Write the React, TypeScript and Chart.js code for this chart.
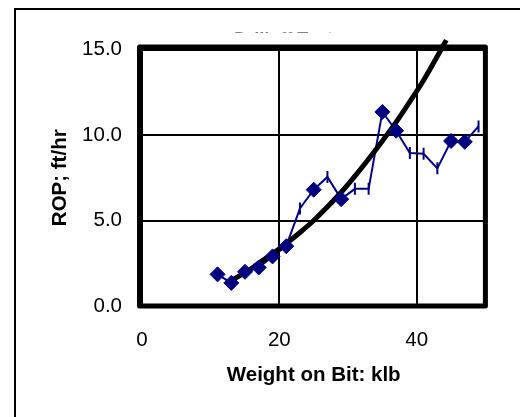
import React, { useEffect, useRef } from 'react';
import { Chart, registerables } from 'chart.js';

Chart.register(...registerables);

// Measured drill-off points (diamond markers)
const wobDiamond = [11, 13, 15, 17, 19, 21, 25, 29, 35, 37, 45, 47];
const ropDiamond = [1.85, 1.35, 2.0, 2.25, 2.9, 3.5, 6.8, 6.25, 11.35, 10.25, 9.65, 9.6];
// Measured drill-off points (dash markers)
const wobDash = [23, 27, 31, 33, 39, 41, 43, 49];
const ropDash = [5.7, 7.55, 6.85, 6.85, 8.95, 8.9, 8.05, 10.5];
// Fitted trend curve
const trendWob = [12.8, 15, 17, 19, 21, 23, 25, 27, 29, 31, 33, 35, 37, 39, 41, 43, 44.3];
const trendRop = [1.45, 1.95, 2.5, 3.05, 3.65, 4.3, 5.0, 5.8, 6.65, 7.6, 8.6, 9.65, 10.75, 11.95, 13.2, 14.6, 15.55];

const xTickValues = [0, 20, 40];
const yTickValues = [0, 5, 10, 15];

const chartTitle = 'Drilloff Test';
const xTitle = 'Weight on Bit: klb';
const yTitle = 'ROP; ft/hr';

const NAVY = '#000080';
const FONT = '"Liberation Sans", Arial, Helvetica, sans-serif';
const FS = 20.5;

export default function App() {
  const ref = useRef<HTMLCanvasElement>(null);

  useEffect(() => {
    if (!ref.current) return;
    const diamonds = wobDiamond.map((x, i) => ({ x, y: ropDiamond[i] }));
    const dashes = wobDash.map((x, i) => ({ x, y: ropDash[i] }));
    const measured = [...diamonds, ...dashes].sort((a, b) => a.x - b.x);
    const trend = trendWob.map((x, i) => ({ x, y: trendRop[i] }));

    const framePlugin = {
      id: 'frame',
      beforeDraw(chart: any) {
        const { ctx, chartArea: ca } = chart;
        ctx.save();
        ctx.fillStyle = '#000';
        ctx.font = `bold 18px ${FONT}`;
        ctx.textAlign = 'center';
        ctx.textBaseline = 'top';
        ctx.fillText(chartTitle, (ca.left + ca.right) / 2 - 30, 31);
        ctx.fillStyle = '#fff';
        ctx.fillRect(ca.left - 12, 32.5, ca.width + 24, ca.bottom - 32.5 + 6);
        ctx.restore();
      },
      beforeDatasetsDraw(chart: any) {
        const { ctx, chartArea: ca } = chart;
        ctx.save();
        ctx.strokeStyle = '#000';
        ctx.lineWidth = 5;
        ctx.lineJoin = 'round';
        ctx.strokeRect(ca.left - 2.5, ca.top - 2.5, ca.width + 2.5, ca.height + 2.5);
        ctx.restore();
      },
    };

    const chart = new Chart(ref.current, {
      type: 'scatter',
      data: {
        datasets: [
          {
            label: 'diamonds',
            data: diamonds,
            showLine: false,
            pointStyle: 'rectRot',
            pointRadius: 7.5,
            backgroundColor: NAVY,
            borderColor: NAVY,
            borderWidth: 1,
            order: 0,
          },
          {
            label: 'dashes',
            data: dashes,
            showLine: false,
            pointStyle: 'line',
            pointRotation: 90,
            pointRadius: 6,
            backgroundColor: NAVY,
            borderColor: NAVY,
            borderWidth: 2,
            order: 1,
          },
          {
            label: 'trend',
            data: trend,
            showLine: true,
            borderColor: '#000',
            borderWidth: 5,
            pointRadius: 0,
            cubicInterpolationMode: 'monotone',
            clip: false,
            order: 2,
          } as any,
          {
            label: 'measured',
            data: measured,
            showLine: true,
            borderColor: NAVY,
            borderWidth: 2,
            pointRadius: 0,
            order: 3,
          },
        ],
      },
      options: {
        responsive: false,
        animation: false,
        devicePixelRatio: 1,
        layout: { padding: { left: 0, right: 34.6, top: 49.5, bottom: 0 } },
        plugins: {
          legend: { display: false },
          title: { display: false },
          tooltip: { enabled: false },
        },
        scales: {
          x: {
            type: 'linear',
            min: 0,
            max: 50,
            afterBuildTicks: (s: any) => {
              s.ticks = xTickValues.map((v) => ({ value: v }));
            },
            afterFit: (s: any) => {
              s.height = 111;
            },
            grid: { color: '#000', lineWidth: 2, drawTicks: false },
            border: { display: false },
            ticks: { padding: 21.7, color: '#000', font: { family: FONT, size: FS }, maxRotation: 0 },
            title: {
              display: true,
              text: xTitle,
              color: '#000',
              font: { family: FONT, size: FS, weight: 'bold' },
              padding: { top: 0, bottom: 29.7 },
            },
          },
          y: {
            type: 'linear',
            min: 0,
            max: 15,
            afterBuildTicks: (s: any) => {
              s.ticks = yTickValues.map((v) => ({ value: v }));
            },
            afterFit: (s: any) => {
              s.width = 142;
            },
            grid: { color: '#000', lineWidth: 2, drawTicks: false },
            border: { display: false },
            ticks: {
              padding: 20,
              color: '#000',
              font: { family: FONT, size: FS },
              callback: (v: any) => Number(v).toFixed(1),
            },
            title: {
              display: true,
              text: yTitle,
              color: '#000',
              font: { family: FONT, size: FS, weight: 'bold' },
              padding: { top: 47.7, bottom: 0 },
            },
          },
        },
      },
      plugins: [framePlugin],
    } as any);

    return () => chart.destroy();
  }, []);

  return (
    <div
      style={{
        position: 'fixed',
        left: 0,
        top: 0,
        width: 520,
        height: 417,
        overflow: 'hidden',
        background: '#fff',
      }}
    >
      <div
        style={{
          position: 'absolute',
          left: 14,
          top: 8,
          width: 600,
          height: 500,
          borderLeft: '2px solid #000',
          borderTop: '2px solid #000',
        }}
      />
      <canvas
        ref={ref}
        width={520}
        height={417}
        style={{ position: 'absolute', left: 0, top: 0, display: 'block' }}
      />
    </div>
  );
}
